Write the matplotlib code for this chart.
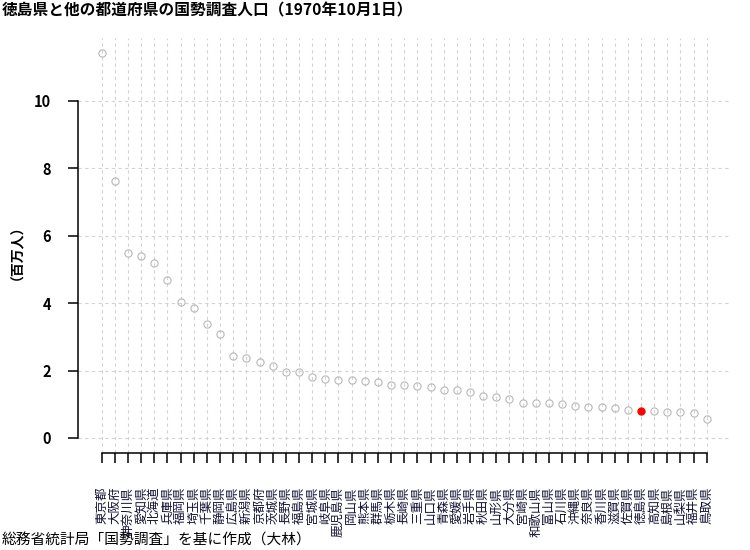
import matplotlib
matplotlib.use("Agg")
import matplotlib.pyplot as plt
import numpy as np

plt.rcParams['font.family'] = ['Noto Sans CJK JP', 'DejaVu Sans']

prefectures = ["東京都", "大阪府", "神奈川県", "愛知県", "北海道", "兵庫県", "福岡県", "埼玉県",
               "千葉県", "静岡県", "広島県", "新潟県", "京都府", "茨城県", "長野県", "福島県",
               "宮城県", "岐阜県", "鹿児島県", "岡山県", "熊本県", "群馬県", "栃木県", "長崎県",
               "三重県", "山口県", "青森県", "愛媛県", "岩手県", "秋田県", "山形県", "大分県",
               "宮崎県", "和歌山県", "富山県", "石川県", "沖縄県", "奈良県", "香川県", "滋賀県",
               "佐賀県", "徳島県", "高知県", "島根県", "山梨県", "福井県", "鳥取県"]
population = [11.408, 7.620, 5.472, 5.386, 5.184, 4.668, 4.027, 3.866,
              3.367, 3.090, 2.436, 2.361, 2.250, 2.144, 1.957, 1.946,
              1.819, 1.759, 1.729, 1.707, 1.700, 1.659, 1.580, 1.570,
              1.543, 1.511, 1.428, 1.418, 1.371, 1.241, 1.226, 1.156,
              1.051, 1.043, 1.030, 1.002, 0.945, 0.930, 0.908, 0.890,
              0.838, 0.791, 0.787, 0.774, 0.762, 0.744, 0.569]
highlight = "徳島県"
yticks = [0, 2, 4, 6, 8, 10]

fig = plt.figure(figsize=(7.5, 5.5), dpi=100)
ax = fig.add_axes([77.5/750, 1-453.4/550, (731-77.5)/750, (453.4-37.6)/550])

x = np.arange(1, len(prefectures)+1)
n = len(x)
ax.set_xlim(1 - 0.04*(n-1), n + 0.04*(n-1))
ymax = max(population)
ax.set_ylim(-0.04*ymax, ymax*1.04)

grid_kw = dict(color='#d3d3d3', lw=0.8, linestyle=(0, (3, 3)), zorder=0)
for xi in x:
    ax.axvline(xi, **grid_kw)
for yt in yticks:
    ax.axhline(yt, **grid_kw)

for xi, val, p in zip(x, population, prefectures):
    if p == highlight:
        ax.plot(xi, val, 'o', ms=5.2, mfc='red', mec='red', mew=0.8, zorder=3)
    else:
        ax.plot(xi, val, 'o', ms=5.2, mfc='none', mec='#b8b8b8', mew=0.8, zorder=3)

for s in ['top', 'right']:
    ax.spines[s].set_visible(False)
ax.spines['left'].set_bounds(0, 10)
ax.spines['bottom'].set_bounds(1, n)
ax.spines['left'].set_linewidth(1.1)
ax.spines['bottom'].set_linewidth(1.1)

ax.set_yticks(yticks)
ax.set_yticklabels([str(t) for t in yticks], fontsize=10.5, fontweight='bold')
ax.set_xticks(x)
ax.set_xticklabels(prefectures, rotation=90, fontsize=9, va='top', color='#111133')
ax.tick_params(axis='y', length=7, width=1.1, pad=12)
ax.tick_params(axis='x', length=7, width=1.1, pad=17)

fig.text(10/750, 1-245/550, "（百万人）", rotation=90, ha='center', va='center',
         fontsize=10, fontweight='bold')
fig.text(2/750, 1-10/550, "徳島県と他の都道府県の国勢調査人口（1970年10月1日）",
         ha='left', va='center', fontsize=11.3, fontweight='bold')
fig.text(2/750, 1-541/550, "総務省統計局「国勢調査」を基に作成（大林）",
         ha='left', va='center', fontsize=10.6)

fig.savefig("out.png", dpi=100)
